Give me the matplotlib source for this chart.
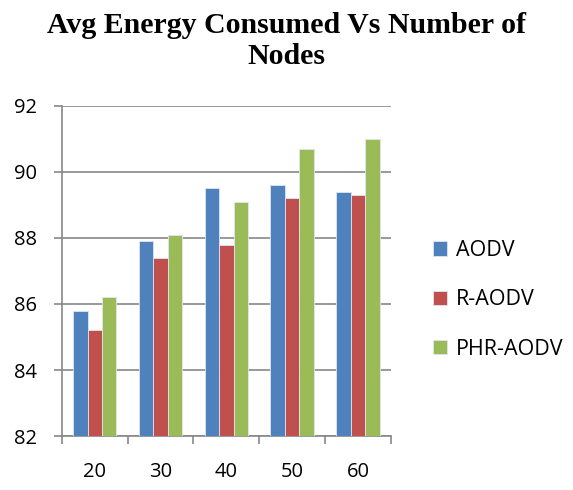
import numpy as np
import matplotlib.pyplot as plt

nodes = ["20", "30", "40", "50", "60"]
aodv = [85.8, 87.9, 89.5, 89.6, 89.4]
r_aodv = [85.2, 87.4, 87.8, 89.2, 89.3]
phr_aodv = [86.2, 88.1, 89.1, 90.7, 91.0]

series = [("AODV", aodv, "#4F81BD"),
          ("R-AODV", r_aodv, "#C0504D"),
          ("PHR-AODV", phr_aodv, "#9BBB59")]

fig = plt.figure(figsize=(5.73, 4.9), dpi=100)
ax = fig.add_axes([0.108, 0.110, 0.574, 0.674])

x = np.arange(len(nodes))
width = 0.22
for i, (name, vals, color) in enumerate(series):
    ax.bar(x + (i - 1) * width, np.array(vals) - 82, width, bottom=82,
           color=color, edgecolor="#dde6f0", linewidth=0.6, label=name, zorder=3)

ax.set_xlim(-0.5, len(nodes) - 0.5)
ax.set_ylim(82, 92)
ax.set_yticks(range(82, 93, 2))
ax.set_xticks(x)
ax.set_xticklabels(nodes)
ax.set_xticks(np.arange(-0.5, len(nodes)), minor=True)
ax.tick_params(axis="x", which="major", length=0, pad=19)
ax.tick_params(axis="x", which="minor", length=6, width=1.2, color="#888888")
ax.tick_params(axis="y", length=6, width=1.2, color="#888888", pad=12)
for lbl in ax.get_xticklabels() + ax.get_yticklabels():
    lbl.set_fontfamily("Open Sans")
    lbl.set_fontsize(14.5)

ax.grid(axis="y", color="#888888", linewidth=1.2, zorder=0)
for side in ("top", "right"):
    ax.spines[side].set_visible(False)
for side in ("left", "bottom"):
    ax.spines[side].set_color("#888888")
    ax.spines[side].set_linewidth(1.2)

fig.suptitle("Avg Energy Consumed Vs Number of\nNodes", x=0.5, y=0.975,
             fontfamily="Liberation Serif", fontweight="bold", fontsize=21.5,
             linespacing=1.2)

ax.legend(loc="center left", bbox_to_anchor=(0.756, 0.388),
          bbox_transform=fig.transFigure, frameon=False,
          prop={"family": "Open Sans", "size": 15.5}, labelspacing=1.32,
          borderpad=0, borderaxespad=0,
          handlelength=0.65, handleheight=0.65, handletextpad=0.4)

fig.savefig("out.png", dpi=100)
